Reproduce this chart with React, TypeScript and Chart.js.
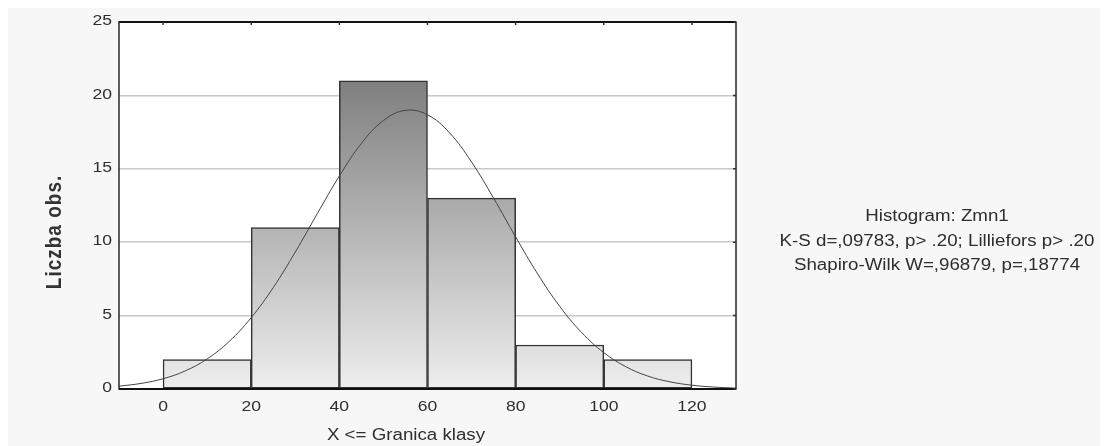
import React, { useEffect, useRef } from "react";
import { Chart, registerables } from "chart.js";

Chart.register(...registerables);

// ---- data ----
const binCenters = [10, 30, 50, 70, 90, 110];
const binCounts = [2, 11, 21, 13, 3, 2];
const curveX = [-10, -5, 0, 5, 10, 15, 20, 25, 30, 35, 40, 45, 50, 55, 60, 65, 70, 75, 80, 85, 90, 95, 100, 105, 110, 115, 120, 125, 130];
const curveY = [0.19, 0.38, 0.7, 1.23, 2.05, 3.24, 4.86, 6.91, 9.33, 11.95, 14.51, 16.73, 18.29, 18.98, 18.68, 17.45, 15.46, 13.0, 10.36, 7.84, 5.63, 3.84, 2.48, 1.52, 0.88, 0.49, 0.26, 0.13, 0.06];
const xTickValues = [0, 20, 40, 60, 80, 100, 120];
const yTickValues = [0, 5, 10, 15, 20, 25];
const xTitle = "X <= Granica klasy";
const yTitle = "Liczba obs.";
const annotationLines = [
  "Histogram: Zmn1",
  "K-S d=,09783, p> .20; Lilliefors p> .20",
  "Shapiro-Wilk W=,96879, p=,18774",
];

const SX = 1.17;
const FONT = '"Liberation Sans", Arial, sans-serif';

function stretchText(ctx: CanvasRenderingContext2D, text: string, x: number, y: number, font: string, align: CanvasTextAlign, color: string) {
  ctx.save();
  ctx.translate(x, y);
  ctx.scale(SX, 1);
  ctx.font = font;
  ctx.fillStyle = color;
  ctx.textAlign = align;
  ctx.textBaseline = "middle";
  ctx.fillText(text, 0, 0);
  ctx.restore();
}

const framePlugin = {
  id: "framePlugin",
  beforeDraw(chart: any) {
    const { ctx, chartArea: a } = chart;
    ctx.save();
    ctx.fillStyle = "#ffffff";
    ctx.fillRect(a.left, a.top, a.right - a.left, a.bottom - a.top);
    ctx.restore();
  },
  afterDraw(chart: any) {
    const { ctx, chartArea: a } = chart;
    const xs = chart.scales.x;
    const ys = chart.scales.y;
    ctx.save();
    // frame
    ctx.strokeStyle = "#2a2a2a";
    ctx.lineWidth = 1.5;
    ctx.strokeRect(a.left, a.top, a.right - a.left, a.bottom - a.top);
    ctx.lineWidth = 2;
    ctx.strokeStyle = "#111";
    ctx.beginPath();
    ctx.moveTo(a.left, a.bottom);
    ctx.lineTo(a.right, a.bottom);
    ctx.moveTo(a.left, a.top);
    ctx.lineTo(a.right, a.top);
    ctx.stroke();
    // small ticks on top and right
    ctx.lineWidth = 1.5;
    ctx.strokeStyle = "#333";
    ctx.beginPath();
    xTickValues.forEach((v) => {
      const px = xs.getPixelForValue(v);
      ctx.moveTo(px, a.top);
      ctx.lineTo(px, a.top + 3);
    });
    yTickValues.forEach((v) => {
      const py = ys.getPixelForValue(v);
      ctx.moveTo(a.right, py);
      ctx.lineTo(a.right - 3, py);
    });
    ctx.stroke();
    ctx.restore();

    // tick labels
    yTickValues.forEach((v) => {
      stretchText(ctx, String(v), a.left - 7, ys.getPixelForValue(v) - 1, `15px ${FONT}`, "right", "#2e2e2e");
    });
    xTickValues.forEach((v) => {
      stretchText(ctx, String(v), xs.getPixelForValue(v), 399, `15px ${FONT}`, "center", "#2e2e2e");
    });
    // x title
    stretchText(ctx, xTitle, 398, 428, `16px ${FONT}`, "center", "#2e2e2e");
    // y title
    ctx.save();
    ctx.translate(47, 224);
    ctx.rotate(-Math.PI / 2);
    ctx.scale(1, SX);
    ctx.font = `bold 19px ${FONT}`;
    (ctx as any).letterSpacing = "1px";
    ctx.fillStyle = "#333";
    ctx.textAlign = "center";
    ctx.textBaseline = "middle";
    ctx.fillText(yTitle, 0, 0);
    ctx.restore();
    // annotation
    const ys0 = [209, 233.5, 258];
    annotationLines.forEach((t, i) => {
      stretchText(ctx, t, 929, ys0[i], `16px ${FONT}`, "center", "#2e2e2e");
    });
  },
};

export default function App() {
  const ref = useRef<HTMLCanvasElement | null>(null);
  useEffect(() => {
    if (!ref.current) return;
    const barData = binCenters.map((x, i) => ({ x, y: binCounts[i] }));
    const lineData = curveX.map((x, i) => ({ x, y: curveY[i] }));
    const chart = new Chart(ref.current, {
      type: "bar",
      data: {
        datasets: [
          {
            type: "line",
            data: lineData,
            borderColor: "#444",
            borderWidth: 1,
            pointRadius: 0,
            tension: 0.4,
            fill: false,
            order: 0,
          } as any,
          {
            type: "bar",
            data: barData,
            backgroundColor: (c: any) => {
              const area = c.chart.chartArea;
              if (!area) return "#cccccc";
              const g = c.chart.ctx.createLinearGradient(0, area.top, 0, area.bottom);
              g.addColorStop(0, "#6a6a6a");
              g.addColorStop(1, "#eeeeee");
              return g;
            },
            borderColor: "#333",
            borderWidth: 1.5,
            borderSkipped: false,
            barPercentage: 1,
            categoryPercentage: 1,
            order: 1,
          } as any,
        ],
      },
      options: {
        animation: false,
        responsive: false,
        maintainAspectRatio: false,
        layout: { padding: { left: 0, top: 14, right: 372, bottom: 0 } },
        plugins: { legend: { display: false }, tooltip: { enabled: false } },
        scales: {
          x: {
            type: "linear",
            min: -10,
            max: 130,
            offset: false,
            afterBuildTicks: (s: any) => {
              s.ticks = xTickValues.map((v) => ({ value: v }));
            },
            afterFit: (s: any) => {
              s.height = 57;
            },
            grid: { display: false, drawTicks: false, offset: false },
            border: { display: false },
            ticks: { display: false },
          },
          y: {
            type: "linear",
            min: 0,
            max: 25,
            afterBuildTicks: (s: any) => {
              s.ticks = yTickValues.map((v) => ({ value: v }));
            },
            afterFit: (s: any) => {
              s.width = 111;
            },
            grid: {
              drawTicks: false,
              color: (c: any) => (c.tick && (c.tick.value === 0 || c.tick.value === 25) ? "rgba(0,0,0,0)" : "#c8c8c8"),
              lineWidth: 1.5,
            },
            border: { display: false },
            ticks: { display: false },
          },
        },
      } as any,
      plugins: [framePlugin],
    });
    return () => chart.destroy();
  }, []);
  return (
    <div style={{ width: 1100, height: 438, background: "#f7f7f7" }}>
      <canvas ref={ref} width={1100} height={438} style={{ width: 1100, height: 438, display: "block" }} />
    </div>
  );
}
